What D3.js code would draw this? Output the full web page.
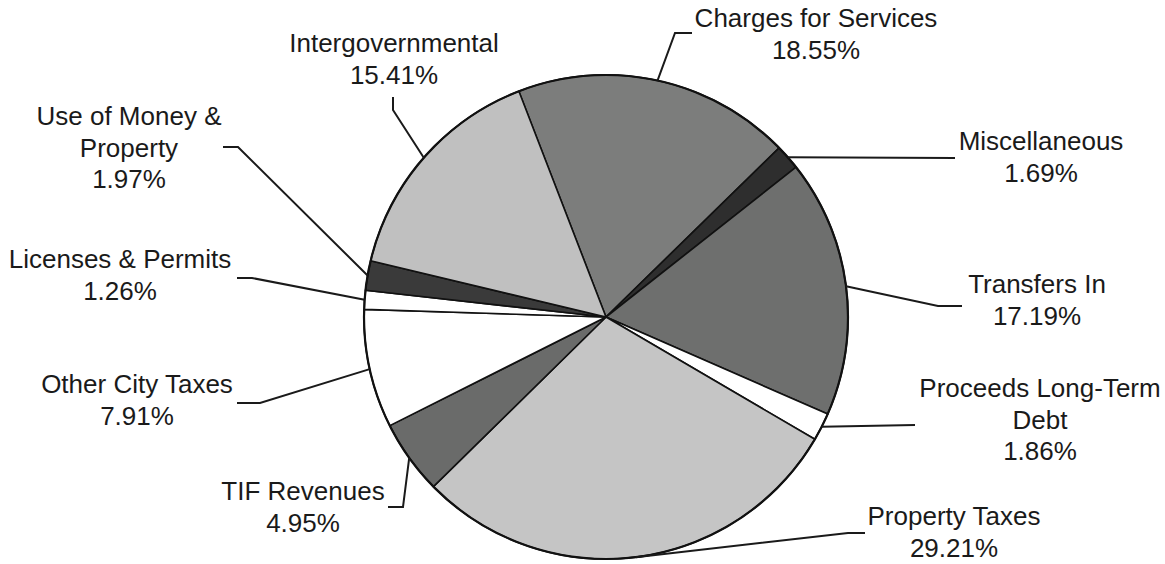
<!DOCTYPE html>
<html>
<head>
<meta charset="utf-8">
<script src="https://cdn.jsdelivr.net/npm/d3@7"></script>
<style>
  body { margin: 0; background: #fff; }
  svg { display: block; }
  .label { font-family: "Liberation Sans", Arial, sans-serif; font-size: 26px; fill: #1a1a1a; }
  .leader { fill: none; stroke: #1a1a1a; stroke-width: 2; }
</style>
</head>
<body>
<div class="chart"></div>
<script>
// revenue categories, clockwise from the top
var categories = ['Charges for Services', 'Miscellaneous', 'Transfers In', 'Proceeds Long-Term Debt',
    'Property Taxes', 'TIF Revenues', 'Other City Taxes', 'Licenses & Permits',
    'Use of Money & Property', 'Intergovernmental'];
// share of total revenue (%)
var shares = [18.55, 1.69, 17.19, 1.86, 29.21, 4.95, 7.91, 1.26, 1.97, 15.41];
// how each label is broken into lines
var labelLines = [
    ['Charges for Services'],
    ['Miscellaneous'],
    ['Transfers In'],
    ['Proceeds Long-Term', 'Debt'],
    ['Property Taxes'],
    ['TIF Revenues'],
    ['Other City Taxes'],
    ['Licenses & Permits'],
    ['Use of Money &', 'Property'],
    ['Intergovernmental']
];

var width = 1165;
var height = 564;
var cx = 606;
var cy = 317;
var radius = 242;
var lineHeight = 31.5;

// gray fills, same order as categories
var fills = ['#7c7d7c', '#2e2e2e', '#6e6f6e', '#ffffff', '#c5c5c5',
    '#6a6b6a', '#ffffff', '#ffffff', '#3a3a3a', '#c0c0c0'];

// where each label block sits and how its leader bends
var labelLayout = [
    { x: 816, y: 27, path: [[675, 33], [692, 33]] },
    { x: 1041, y: 150, path: [[955, 158]] },
    { x: 1037, y: 293, path: [[938, 306], [962, 306]] },
    { x: 1040, y: 397, path: [[915, 425]] },
    { x: 954, y: 525, path: [[848, 533], [865, 533]] },
    { x: 303, y: 500, path: [[403, 507], [388, 507]] },
    { x: 137, y: 393, path: [[260, 403], [237, 403]] },
    { x: 120, y: 268, path: [[252, 278], [237, 278]] },
    { x: 129, y: 125, path: [[238, 147], [223, 147]] },
    { x: 394, y: 52, path: [[393, 110], [393, 97]] }
];

var svg = d3.select('.chart').append('svg')
    .attr('width', width)
    .attr('height', height);

var pie = d3.pie()
    .sort(null)
    .startAngle(-21.1 * Math.PI / 180)
    .endAngle((360 - 21.1) * Math.PI / 180)
    .value(function(d) { return d; });

var arcs = pie(shares);

var arc = d3.arc()
    .innerRadius(0)
    .outerRadius(radius);

var g = svg.append('g')
    .attr('transform', 'translate(' + cx + ',' + cy + ')');

g.selectAll('path.slice')
    .data(arcs)
    .enter()
    .append('path')
    .attr('class', 'slice')
    .attr('d', arc)
    .attr('fill', function(d, i) { return fills[i]; })
    .attr('stroke', '#111')
    .attr('stroke-width', 1.6)
    .attr('stroke-linejoin', 'round');

// outline of the whole pie
g.append('circle')
    .attr('r', radius)
    .attr('fill', 'none')
    .attr('stroke', '#111')
    .attr('stroke-width', 2.2);

// leader lines start on the rim at the middle of each slice
var line = d3.line();
svg.selectAll('path.leader')
    .data(arcs)
    .enter()
    .append('path')
    .attr('class', 'leader')
    .attr('d', function(d, i) {
        var mid = (d.startAngle + d.endAngle) / 2;
        var start = [cx + radius * Math.sin(mid), cy - radius * Math.cos(mid)];
        return line([start].concat(labelLayout[i].path));
    });

// label blocks: name lines then the percentage
var labels = svg.selectAll('text.label')
    .data(arcs)
    .enter()
    .append('text')
    .attr('class', 'label')
    .attr('text-anchor', 'middle')
    .attr('x', function(d, i) { return labelLayout[i].x; })
    .attr('y', function(d, i) { return labelLayout[i].y; });

labels.each(function(d, i) {
    var t = d3.select(this);
    var rows = labelLines[i].concat([shares[i].toFixed(2) + '%']);
    rows.forEach(function(r, k) {
        t.append('tspan')
            .attr('x', labelLayout[i].x)
            .attr('dy', k === 0 ? 0 : lineHeight)
            .text(r);
    });
});
</script>
</body>
</html>
